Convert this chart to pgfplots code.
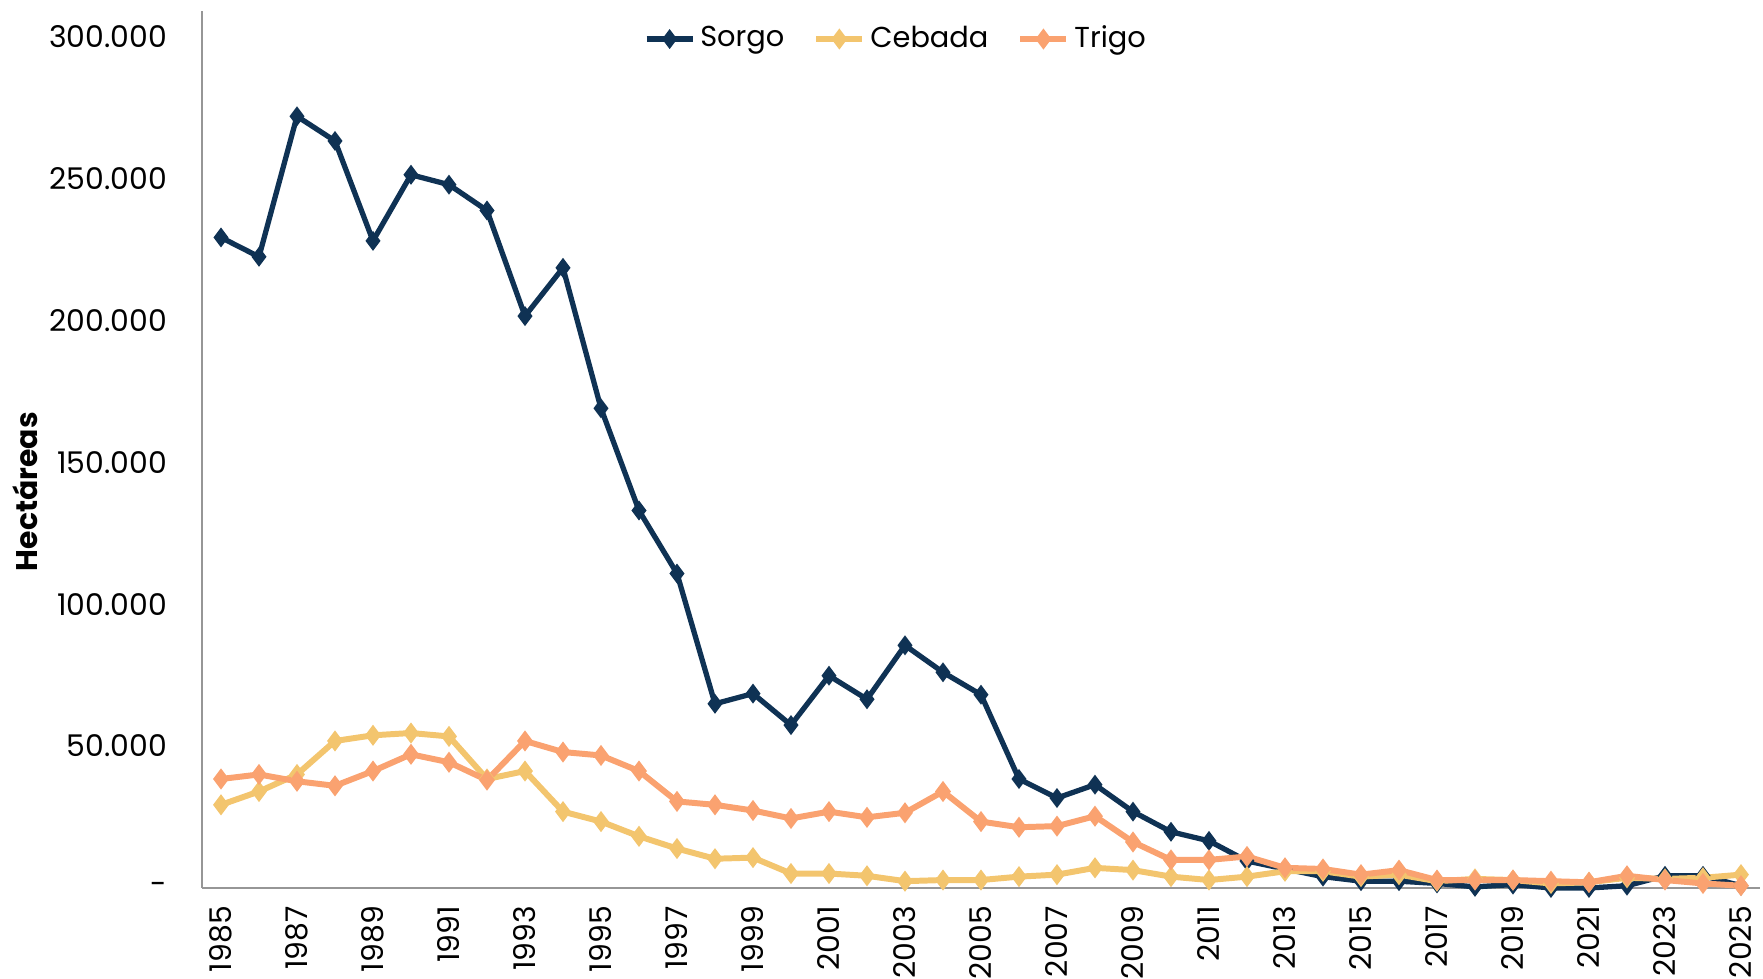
\documentclass[border=0pt]{standalone}
\usepackage{pgfplots}
\pgfplotsset{compat=1.18}
\usepackage{pgfplotstable}
\usepackage{fontspec}
\setmainfont{Poppins}

\definecolor{sorgo}{RGB}{15,50,84}
\definecolor{cebada}{RGB}{243,197,110}
\definecolor{trigo}{RGB}{250,162,112}
\definecolor{axisgray}{RGB}{150,150,150}

% year, hectares
\pgfplotstableread{
year sorgo cebada trigo
1985 229200 29300 38400
1986 222400 34000 40000
1987 271900 40000 37600
1988 263200 51800 36000
1989 228000 53800 41200
1990 251300 54600 47100
1991 247800 53400 44300
1992 238700 38400 38000
1993 201500 41200 51800
1994 218500 26900 47900
1995 169000 23400 46700
1996 133000 18200 41200
1997 110800 13900 30500
1998 64900 10300 29300
1999 68500 10700 27300
2000 57400 5100 24500
2001 74800 5100 26900
2002 66500 4300 24900
2003 85500 2400 26500
2004 76000 2800 34000
2005 68100 2800 23400
2006 38400 4000 21400
2007 31700 4700 21800
2008 36400 7100 25300
2009 26900 6300 16200
2010 19800 4000 9900
2011 16600 2800 9900
2012 9500 4000 11100
2013 6700 5900 7100
2014 4000 5900 6700
2015 2400 4000 4700
2016 2400 4700 6300
2017 1600 2400 2800
2018 400 3200 2800
2019 1200 2800 2800
2020 0 1600 2400
2021 0 2000 2000
2022 800 3600 4300
2023 4300 3200 2800
2024 4300 3600 1600
2025 800 4700 800
}\datatable

\begin{document}
\begin{tikzpicture}
\fontsize{8.5}{10}\selectfont
\useasboundingbox (-2.02cm,-0.91cm) rectangle (15.61cm,8.88cm);
\begin{axis}[
    scale only axis,
    width=15.58cm,
    height=8.77cm,
    xmin=1984.5, xmax=2025.5,
    ymin=0, ymax=309000,
    axis lines=left,
    axis line style={-, draw=axisgray, line width=0.8pt},
    xtick={1985,1987,...,2025},
    xticklabels={1985,1987,1989,1991,1993,1995,1997,1999,2001,2003,2005,2007,2009,2011,2013,2015,2017,2019,2021,2023,2025},
    xticklabel style={rotate=90, anchor=east, font=\fontsize{8.5}{10}\selectfont},
    xtick style={draw=none},
    extra x ticks={1984.5,1986.5,...,2024.5},
    extra x tick labels={},
    extra x tick style={tick align=outside, major tick length=0.09cm,
        tick style={draw=axisgray, line width=0.8pt}},
    ytick={0,50000,100000,150000,200000,250000,300000},
    yticklabels={-,50.000,100.000,150.000,200.000,250.000,300.000},
    ytick style={draw=none},
    yticklabel style={xshift=-0.17cm, font=\fontsize{8.5}{10}\selectfont},
    scaled ticks=false,
    ylabel={\bfseries Hectáreas},
    ylabel style={at={(axis description cs:-0.1136,0.452)}, anchor=center,
        font=\fontsize{8.5}{10}\selectfont},
    legend style={at={(0.447,0.968)}, anchor=center, legend columns=3,
        draw=none, fill=none, font=\fontsize{8.2}{10}\selectfont,
        /tikz/every even column/.append style={column sep=0.22cm},
        /tikz/every odd column/.append style={column sep=-0.02cm}},
    legend image code/.code={
        \draw[mark repeat=2, mark phase=2]
            plot coordinates {(0cm,0cm) (0.23cm,0cm) (0.46cm,0cm)};},
    legend cell align=left,
    clip=false,
]
\addplot[color=sorgo, line width=1.5pt, mark=diamond*, mark size=1.6pt,
    mark options={solid, fill=sorgo}] table[x=year, y=sorgo] {\datatable};
\addplot[color=cebada, line width=1.7pt, mark=diamond*, mark size=1.6pt,
    mark options={solid, fill=cebada}] table[x=year, y=cebada] {\datatable};
\addplot[color=trigo, line width=1.7pt, mark=diamond*, mark size=1.6pt,
    mark options={solid, fill=trigo}] table[x=year, y=trigo] {\datatable};
\legend{Sorgo,Cebada,Trigo}
\end{axis}
\end{tikzpicture}
\end{document}
